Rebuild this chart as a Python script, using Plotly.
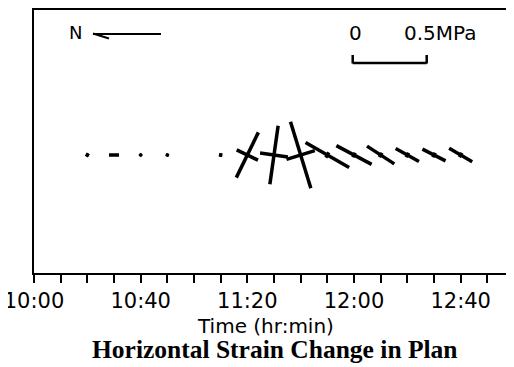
import plotly.graph_objects as go
import math

# ---- data ----
times_min = [20, 30, 40, 50, 70, 80, 90, 100, 110, 120, 130, 140, 150, 160]   # minutes after 10:00
major_mpa = [0.025, 0.068, 0.018, 0.02, 0.025, 0.34, 0.40, 0.47, 0.34, 0.27, 0.22, 0.18, 0.175, 0.18]
minor_mpa = [0.02, 0.012, 0.015, 0.015, 0.015, 0.16, 0.19, 0.2, 0.04, 0.035, 0.035, 0.035, 0.035, 0.035]
angle_deg = [60, 0, 45, 70, 80, 64, 82, 107, 150, 152, 147, 151, 153, 150]
tick_minutes = list(range(0, 181, 10))
tick_labels = {0: "10:00", 40: "10:40", 80: "11:20", 120: "12:00", 160: "12:40"}
scale_mpa = 0.5

# ---- layout geometry (page has an 8px body margin) ----
OFF = 8
W, H = 514 - OFF, 367 - OFF
ML, MR, MT, MB = 34 - OFF, 0, 2, 367 - 273
PW, PH = W - ML - MR, H - MT - MB
X_RANGE = [0, 180]
px_per_min = PW / (X_RANGE[1] - X_RANGE[0])
PX_PER_MPA = 148.0
BASE_Y = 273 - 155  # px above bottom of plot area (y axis in pixel units)

xs, ys = [], []
for t, M, m, a in zip(times_min, major_mpa, minor_mpa, angle_deg):
    for length, ang in ((M, a), (m, a + 90)):
        half = length * PX_PER_MPA / 2
        dx = half * math.cos(math.radians(ang)) / px_per_min
        dy = half * math.sin(math.radians(ang))
        xs += [t - dx, t + dx, None]
        ys += [BASE_Y - dy, BASE_Y + dy, None]

fig = go.Figure()
fig.add_trace(go.Scatter(x=xs, y=ys, mode="lines",
                         line=dict(color="black", width=3.5),
                         hoverinfo="skip", showlegend=False))

def px(xp):  # page x -> paper
    return (xp - OFF - ML) / PW

def py(yp):  # page y -> paper
    return (MT + PH - (yp - OFF)) / PH

shapes = []
# scale bar
sx0 = 352.7
sx1 = sx0 + scale_mpa * PX_PER_MPA
for seg in [(sx0, 63, sx1, 63), (sx0, 63.5, sx0, 55), (sx1, 63.5, sx1, 55)]:
    shapes.append(dict(type="line", xref="paper", yref="paper",
                       x0=px(seg[0]), y0=py(seg[1]), x1=px(seg[2]), y1=py(seg[3]),
                       line=dict(color="black", width=2.5)))
# north arrow
for seg in [(93, 34, 161, 34), (93, 33.5, 109, 38.5)]:
    shapes.append(dict(type="line", xref="paper", yref="paper",
                       x0=px(seg[0]), y0=py(seg[1]), x1=px(seg[2]), y1=py(seg[3]),
                       line=dict(color="black", width=2)))

def txt(s, x, y, size, family="DejaVu Sans"):
    return dict(text=s, x=px(x), y=py(y), xref="paper", yref="paper", showarrow=False,
                xanchor="center", yanchor="middle",
                font=dict(family=family, size=size, color="black"))

ann = [
    txt("N", 75, 33, 18),
    txt("0", 355, 33, 20),
    txt("0.5MPa", 439.5, 33, 20),
    txt("Time (hr:min)", 265, 326, 20),
    txt("<b>Horizontal Strain Change in Plan</b>", 275, 349, 25.5, "Liberation Serif"),
]

fig.update_layout(
    width=W, height=H,
    margin=dict(l=ML, r=MR, t=MT, b=MB, pad=0, autoexpand=False),
    paper_bgcolor="white", plot_bgcolor="white",
    shapes=shapes, annotations=ann,
    xaxis=dict(range=X_RANGE, showgrid=False, zeroline=False, automargin=False,
               showline=True, linecolor="black", linewidth=2, mirror=True,
               ticks="outside", ticklen=8, tickwidth=2, tickcolor="black",
               tickvals=tick_minutes, ticklabeloverflow="allow",
               ticktext=[tick_labels.get(v, "") for v in tick_minutes],
               tickfont=dict(family="DejaVu Sans", size=21, color="black")),
    yaxis=dict(range=[0, PH], showgrid=False, zeroline=False, automargin=False,
               showline=True, linecolor="black", linewidth=2,
               showticklabels=False, ticks=""),
)

fig.write_html("out.html")
